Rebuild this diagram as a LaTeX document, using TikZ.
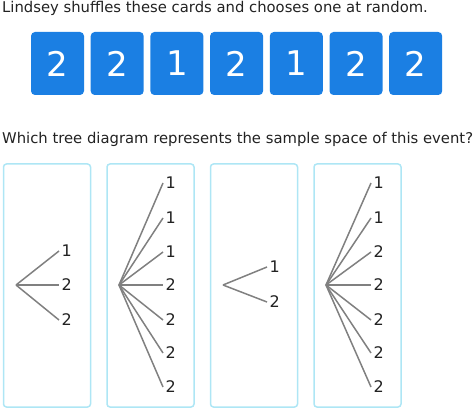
\documentclass[tikz,border=0pt]{standalone}
\usepackage{fontspec}
\setmainfont{DejaVu Sans}
\definecolor{cardblue}{HTML}{1B7FE3}
\definecolor{boxcyan}{HTML}{AEE6F5}
\definecolor{txt}{HTML}{222222}
\definecolor{branch}{HTML}{808080}
\begin{document}
\begin{tikzpicture}[x=1pt,y=-1pt,
  card/.style={fill=cardblue,rounded corners=4pt,minimum width=53pt,minimum height=63pt,inner sep=0pt,text=white,font=\fontsize{34}{40}\selectfont},
  panel/.style={draw=boxcyan,line width=1.5pt,rounded corners=3pt,minimum width=87pt,minimum height=243pt,inner sep=0pt},
  leaf/.style={anchor=west,inner sep=2.5pt,text=txt,font=\fontsize{16}{18}\selectfont},
  br/.style={draw=branch,line width=1.5pt},
  words/.style={anchor=west,inner sep=0pt,text=txt,font=\fontsize{14.8}{17}\selectfont}]
\useasboundingbox (0,0) rectangle (474,409);
\node[words] (t1) at (2,8) {Lindsey shuffles these cards and chooses one at random.};
\foreach \v [count=\i] in {2,2,1,2,1,2,2} {
  \node[card] (c\i) at ({57.5+59.7*(\i-1)},63.5) {\v};
}
\node[words] (t2) at (2,139) {Which tree diagram represents the sample space of this event?};
\node[panel] (b1) at (47,285.5) {};
\node[panel] (b2) at (150.5,285.5) {};
\node[panel] (b3) at (254,285.5) {};
\node[panel] (b4) at (357.5,285.5) {};
% tree 1
\coordinate (r1) at (16,285);
\foreach \v/\y [count=\i] in {1/251,2/285,2/320} {
  \node[leaf] (a\i) at (59,\y) {\v};
  \draw[br] (r1) -- (a\i.west);
}
% tree 2
\coordinate (r2) at (119,285);
\foreach \v/\y [count=\i] in {1/183,1/218,1/252,2/285,2/320,2/353,2/387} {
  \node[leaf] (b\i) at (163,\y) {\v};
  \draw[br] (r2) -- (b\i.west);
}
% tree 3
\coordinate (r3) at (223,285);
\foreach \v/\y [count=\i] in {1/267,2/302} {
  \node[leaf] (d\i) at (267,\y) {\v};
  \draw[br] (r3) -- (d\i.west);
}
% tree 4
\coordinate (r4) at (326,285);
\foreach \v/\y [count=\i] in {1/183,1/218,2/252,2/285,2/320,2/353,2/387} {
  \node[leaf] (e\i) at (371,\y) {\v};
  \draw[br] (r4) -- (e\i.west);
}
\end{tikzpicture}
\end{document}
